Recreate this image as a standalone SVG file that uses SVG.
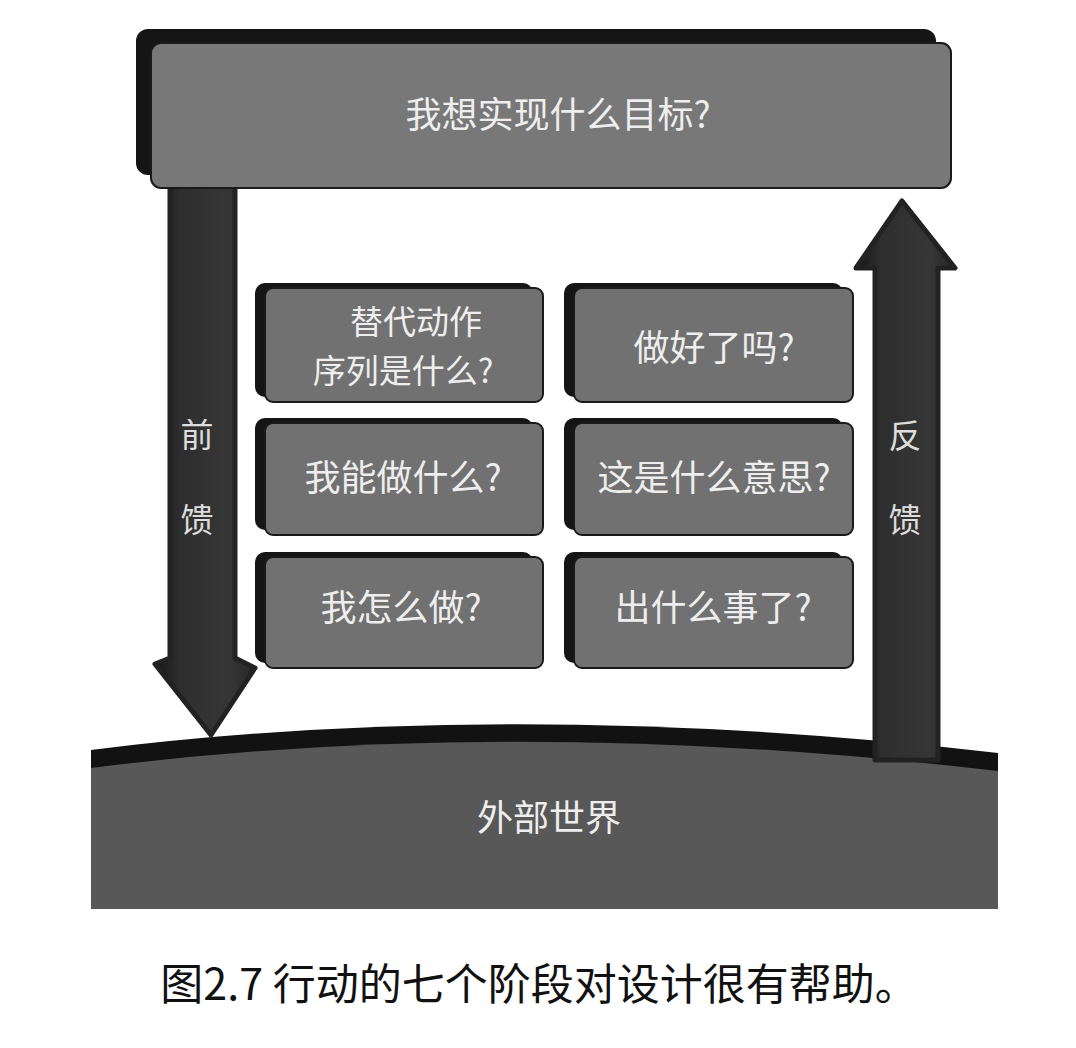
<svg xmlns="http://www.w3.org/2000/svg" width="1076" height="1048" viewBox="0 0 1076 1048">
<defs>
<linearGradient id="shaftV" x1="0" y1="0" x2="1" y2="0">
<stop offset="0" stop-color="#161616"/>
<stop offset="0.25" stop-color="#2e2e2e"/>
<stop offset="0.75" stop-color="#363636"/>
<stop offset="1" stop-color="#262626"/>
</linearGradient>
<style>
.shadow{fill:#151515;}
.face{fill:#717171;stroke:#1a1a1a;stroke-width:2;}
.topface{fill:#787878;stroke:#1a1a1a;stroke-width:2;}
.lbl{font-family:"Noto Sans CJK SC","Noto Sans",sans-serif;font-size:36px;fill:#eeeeee;text-anchor:middle;}
.lbl2{font-family:"Noto Sans CJK SC","Noto Sans",sans-serif;font-size:33px;fill:#eeeeee;text-anchor:middle;}
.albl{font-family:"Noto Sans CJK SC","Noto Sans",sans-serif;font-size:33px;fill:#dddddd;text-anchor:middle;}
.arrow{fill:url(#shaftV);stroke:#222;stroke-width:5;stroke-linejoin:round;}
.cap{font-family:"Noto Sans CJK SC","Noto Sans",sans-serif;font-size:43px;fill:#111;text-anchor:middle;}
</style>
</defs>
<rect width="1076" height="1048" fill="#ffffff"/>

<g id="ground">
<path d="M91,750 Q512,697 998,753 L998,909 L91,909 Z" fill="#121212"/>
<path d="M91,768 Q512,714 998,771 L998,909 L91,909 Z" fill="#585858"/>
<text class="lbl" x="549" y="831">外部世界</text>
</g>

<g id="connectors">
<g id="feedforward">
<path class="arrow" d="M170,182 L235,182 L235,658 L255,668 L211,735 L155,664 L170,658 Z"/>
<text class="albl" x="197" y="447">前</text>
<text class="albl" x="197" y="532">馈</text>
</g>
<g id="feedback">
<path class="arrow" d="M875,760 L875,268 L856,268 L902,201 L955,268 L938,268 L938,760 Z"/>
<text class="albl" x="905" y="448">反</text>
<text class="albl" x="905" y="532">馈</text>
</g>
</g>

<g id="goal">
<rect class="shadow" x="136" y="29" width="800" height="146" rx="12"/>
<rect class="topface" x="151" y="43" width="800" height="145" rx="10"/>
<text class="lbl" x="558" y="128">我想实现什么目标?</text>
</g>

<g id="plan">
<rect class="shadow" x="255" y="283" width="278" height="114" rx="10"/>
<rect class="face" x="265" y="288" width="278" height="114" rx="8"/>
<text class="lbl2" x="416" y="334">替代动作</text>
<text class="lbl2" x="403" y="383">序列是什么?</text>
</g>

<g id="specify">
<rect class="shadow" x="255" y="418" width="278" height="112" rx="10"/>
<rect class="face" x="265" y="423" width="278" height="112" rx="8"/>
<text class="lbl" x="403" y="491">我能做什么?</text>
</g>

<g id="perform">
<rect class="shadow" x="255" y="552" width="278" height="111" rx="10"/>
<rect class="face" x="265" y="557" width="278" height="111" rx="8"/>
<text class="lbl" x="401" y="621">我怎么做?</text>
</g>

<g id="compare">
<rect class="shadow" x="564" y="283" width="279" height="114" rx="10"/>
<rect class="face" x="574" y="288" width="279" height="114" rx="8"/>
<text class="lbl" x="714" y="361">做好了吗?</text>
</g>

<g id="interpret">
<rect class="shadow" x="564" y="418" width="279" height="112" rx="10"/>
<rect class="face" x="574" y="423" width="279" height="112" rx="8"/>
<text class="lbl" x="714" y="491">这是什么意思?</text>
</g>

<g id="perceive">
<rect class="shadow" x="564" y="552" width="279" height="111" rx="10"/>
<rect class="face" x="574" y="557" width="279" height="111" rx="8"/>
<text class="lbl" x="713" y="621">出什么事了?</text>
</g>

<g id="caption">
<text class="cap" x="539" y="1000">图2.7 行动的七个阶段对设计很有帮助。</text>
</g>
</svg>
